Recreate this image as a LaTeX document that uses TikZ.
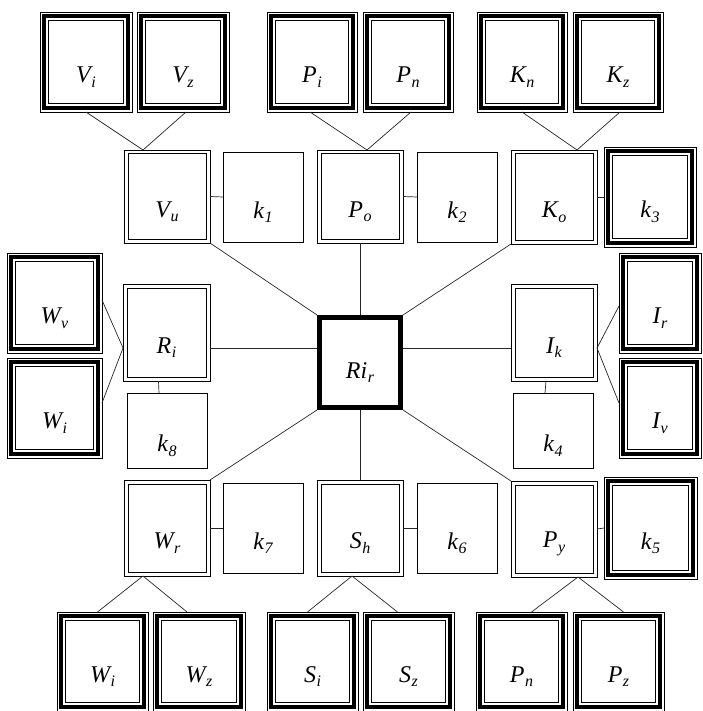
\documentclass[tikz,border=0pt]{standalone}
\usepackage{fontspec}
\setmainfont{Liberation Serif}
\tikzset{
 ln/.style={line width=0.7pt, black!85},
 plainbox/.style={draw, line width=0.8pt, inner sep=0pt, outer sep=0pt},
 dblbox/.style={draw, line width=0.8pt, inner sep=0pt, outer sep=0pt},
 tribox/.style={draw, line width=0.7pt, inner sep=0pt, outer sep=0pt},
 centerbox/.style={draw, line width=5pt, inner sep=0pt},
 lab/.style={font=\fontsize{24}{28}\selectfont\itshape, inner sep=0pt},
}
\newcommand{\lbl}[2]{#1\kern0.5pt\raisebox{-4.5pt}{\fontsize{16}{16}\selectfont\itshape #2}}
\newcommand{\Bx}[7]{%
 \node[#1, minimum width={#5-#3}, minimum height={#6-#4}] (#2) at ({(#3+#5)/2},{(#4+#6)/2}) {};
 \node[lab] (#2t) at ([yshift=-15pt]#2.center) {#7};
}
\newcommand{\Dbl}[1]{\draw[line width=1pt] ([shift={(4,4)}]#1.north west) rectangle ([shift={(-4,-4)}]#1.south east);}
\newcommand{\Tri}[1]{\draw[line width=4pt] ([shift={(4,4)}]#1.north west) rectangle ([shift={(-4,-4)}]#1.south east);
 \draw[line width=0.9pt] ([shift={(8.5,8.5)}]#1.north west) rectangle ([shift={(-8.5,-8.5)}]#1.south east);}
\begin{document}
\begin{tikzpicture}[x=1pt,y=-1pt]
\useasboundingbox (0,0) rectangle (702,711);
% top leaves
\Bx{tribox}{Vi}{40}{12}{132}{112}{\lbl{V}{i}}\Tri{Vi}
\Bx{tribox}{Vz}{137}{12}{229}{112}{\lbl{V}{z}}\Tri{Vz}
\Bx{tribox}{Pi}{267}{12}{357}{112}{\lbl{P}{i}}\Tri{Pi}
\Bx{tribox}{PnT}{363}{12}{453}{112}{\lbl{P}{n}}\Tri{PnT}
\Bx{tribox}{Kn}{477}{12}{567}{112}{\lbl{K}{n}}\Tri{Kn}
\Bx{tribox}{Kz}{573}{12}{663}{112}{\lbl{K}{z}}\Tri{Kz}
% upper middle row
\Bx{dblbox}{Vu}{124}{150}{210}{243}{\lbl{V}{u}}\Dbl{Vu}
\Bx{plainbox}{k1}{223}{152}{303}{242}{\lbl{k}{1}}
\Bx{dblbox}{Po}{317}{150}{403}{243}{\lbl{P}{o}}\Dbl{Po}
\Bx{plainbox}{k2}{417}{152}{497}{242}{\lbl{k}{2}}
\Bx{dblbox}{Ko}{511}{150}{597}{244}{\lbl{K}{o}}\Dbl{Ko}
\Bx{tribox}{k3}{604}{147}{696}{247}{\lbl{k}{3}}\Tri{k3}
% left
\Bx{tribox}{Wv}{7}{253}{102}{353}{\lbl{W}{v}}\Tri{Wv}
\Bx{tribox}{WiL}{7}{358}{102}{458}{\lbl{W}{i}}\Tri{WiL}
\Bx{dblbox}{Ri}{123}{284}{210}{381}{\lbl{R}{i}}\Dbl{Ri}
\Bx{plainbox}{k8}{127}{393}{207}{468}{\lbl{k}{8}}
% centre
\node[centerbox, minimum width=81, minimum height=90] (Rir) at (360,362.5) {};
\node[lab] (Rirt) at ([yshift=-10pt]Rir.center) {\lbl{Ri}{r}};
% right
\Bx{dblbox}{Ik}{511}{284}{597}{381}{\lbl{I}{k}}\Dbl{Ik}
\Bx{plainbox}{k4}{513}{393}{593}{468}{\lbl{k}{4}}
\Bx{tribox}{Ir}{619}{253}{701}{353}{\lbl{I}{r}}\Tri{Ir}
\Bx{tribox}{Iv}{619}{358}{701}{458}{\lbl{I}{v}}\Tri{Iv}
% lower middle row
\Bx{dblbox}{Wr}{124}{480}{210}{576}{\lbl{W}{r}}\Dbl{Wr}
\Bx{plainbox}{k7}{223}{483}{303}{573}{\lbl{k}{7}}
\Bx{dblbox}{Sh}{317}{480}{403}{576}{\lbl{S}{h}}\Dbl{Sh}
\Bx{plainbox}{k6}{417}{483}{497}{573}{\lbl{k}{6}}
\Bx{dblbox}{Py}{511}{481}{597}{577}{\lbl{P}{y}}\Dbl{Py}
\Bx{tribox}{k5}{604}{477}{697}{579}{\lbl{k}{5}}\Tri{k5}
% bottom leaves
\Bx{tribox}{WiB}{57}{612}{148}{711}{\lbl{W}{i}}\Tri{WiB}
\Bx{tribox}{Wz}{153}{612}{245}{711}{\lbl{W}{z}}\Tri{Wz}
\Bx{tribox}{Si}{267}{612}{358}{711}{\lbl{S}{i}}\Tri{Si}
\Bx{tribox}{Sz}{363}{612}{454}{711}{\lbl{S}{z}}\Tri{Sz}
\Bx{tribox}{PnB}{476}{612}{567}{711}{\lbl{P}{n}}\Tri{PnB}
\Bx{tribox}{Pz}{573}{612}{664}{711}{\lbl{P}{z}}\Tri{Pz}
% junctions
\coordinate (jV) at (143,150);
\coordinate (jP) at (367,150);
\coordinate (jK) at (577,150);
\coordinate (jR) at (123,348);
\coordinate (jI) at (597,348);
\coordinate (jW) at (143,576);
\coordinate (jS) at (352,576);
\coordinate (jY) at (578,577);
% tree connectors
\draw[ln] (Vi.south) -- (jV) -- ([xshift=3pt]Vz.south);
\draw[ln] ([xshift=-2pt]Pi.south) -- (jP) -- ([xshift=3pt]PnT.south);
\draw[ln] (Kn.south) -- (jK) -- ([xshift=2pt]Kz.south);
\draw[ln] ([yshift=3pt]Wv.east) -- (jR) -- ([yshift=5pt]WiL.east);
\draw[ln] ([yshift=-3pt]Ir.west) -- (jI) -- ([yshift=5pt]Iv.west);
\draw[ln] ([xshift=-5pt]WiB.north) -- (jW) -- ([xshift=-12pt]Wz.north);
\draw[ln] ([xshift=-5pt]Si.north) -- (jS) -- ([xshift=-11pt]Sz.north);
\draw[ln] ([xshift=10pt]PnB.north) -- (jY) -- ([xshift=5pt]Pz.north);
% side connectors
\draw[ln] (Vu.east) -- (k1.west);
\draw[ln] (Po.east) -- (k2.west);
\draw[ln] (Ko.east) -- (k3.west);
\draw[ln] (Wr.east) -- (k7.west);
\draw[ln] (Sh.east) -- (k6.west);
\draw[ln] (Py.east) -- (k5.west);
\draw[ln] ([xshift=-8pt]Ri.south) -- ([xshift=-8pt]k8.north);
\draw[ln] ([xshift=-8pt]Ik.south) -- ([xshift=-8pt]k4.north);
% centre connectors
\draw[ln] (Rir.north) -- (Po.south);
\draw[ln] (Rir.south) -- (Sh.north);
\draw[ln] (Rir.west |- jR) -- (Ri.east |- jR);
\draw[ln] (Rir.east |- jI) -- (Ik.west |- jI);
\draw[ln] (Rir.north west) -- (Vu.south east);
\draw[ln] (Rir.north east) -- (Ko.south west);
\draw[ln] (Rir.south west) -- (Wr.north east);
\draw[ln] (Rir.south east) -- (Py.north west);
\end{tikzpicture}
\end{document}
